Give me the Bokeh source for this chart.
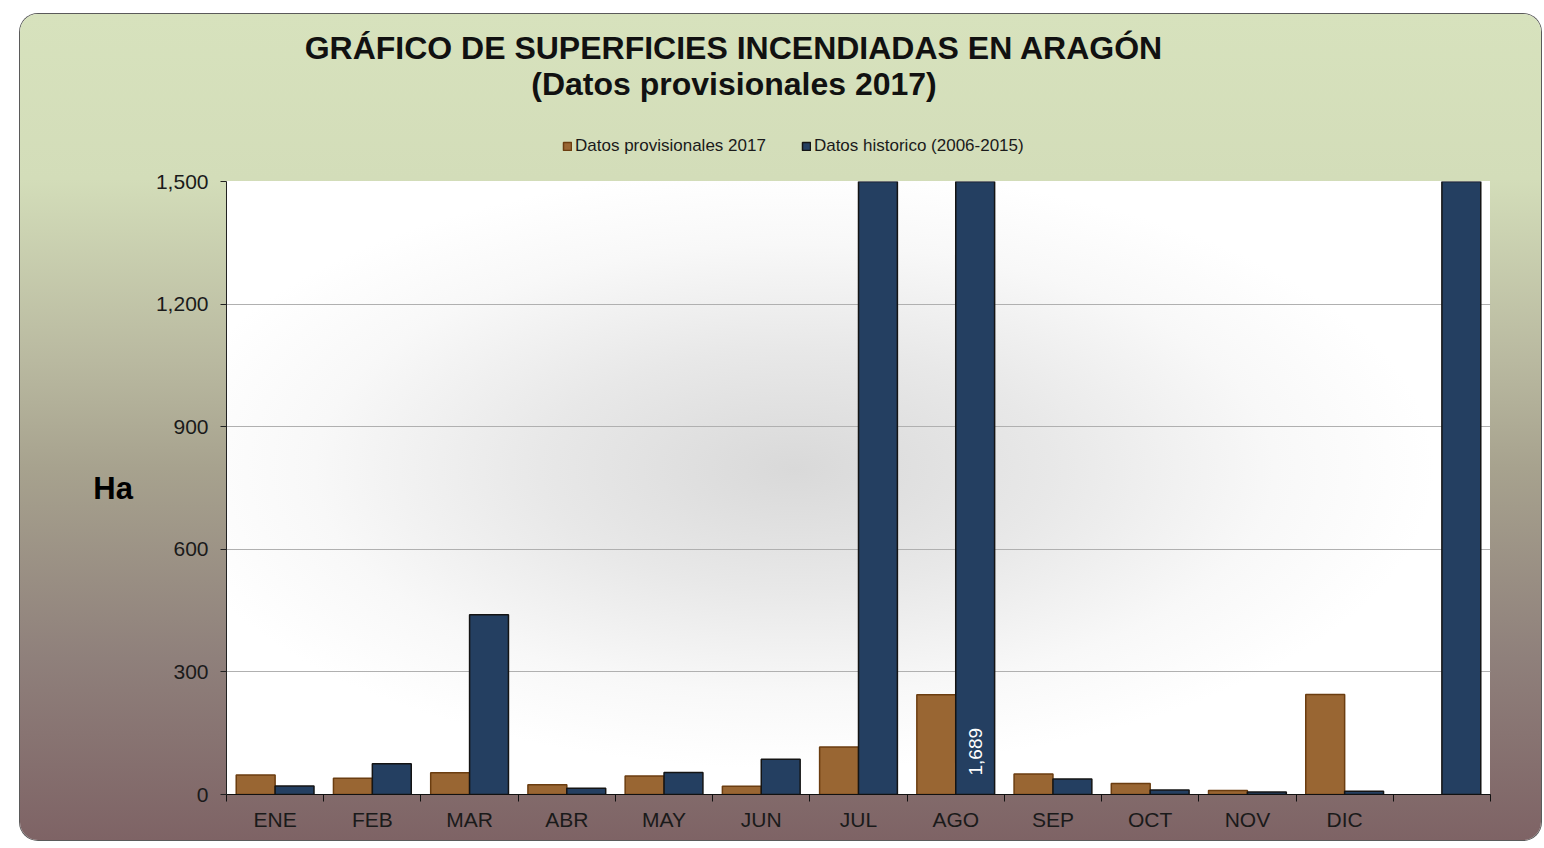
import numpy as np
from bokeh.plotting import figure
from bokeh.layouts import column
from bokeh.models import (ColumnDataSource, Range1d, FixedTicker, NumeralTickFormatter,
                          Label, Legend, LegendItem)
from bokeh.transform import dodge
from bokeh.embed import file_html
from bokeh.resources import INLINE

# ---------------- data ----------------
categories = ["ENE", "FEB", "MAR", "ABR", "MAY", "JUN", "JUL", "AGO",
              "SEP", "OCT", "NOV", "DIC", ""]
provisional_2017 = [48, 40, 53, 24, 45, 20, 116, 244, 50, 27, 10, 245, np.nan]
# JUL and the last (unlabelled) column exceed the 1,500 axis limit and are clipped
historico_2006_2015 = [21, 75, 440, 15, 54, 86, 2300, 1689, 38, 11, 6, 8, 5000]
series_names = ["Datos provisionales 2017", "Datos historico (2006-2015)"]
y_ticks = [0, 300, 600, 900, 1200, 1500]
title_lines = ["GRÁFICO DE SUPERFICIES INCENDIADAS EN ARAGÓN",
               "(Datos provisionales 2017)"]
y_label = "Ha"
labelled_category = "AGO"

FONT = "Liberation Sans"
ORANGE = "#996633"
ORANGE_LINE = "#6b3d10"
BLUE = "#243f61"
BLUE_LINE = "#141414"

W = 1521
TOP_H = 155
n = len(categories)
centers = np.arange(n) + 0.5
source = ColumnDataSource(dict(x=centers,
                               prov=np.array(provisional_2017, dtype=float),
                               hist=np.array(historico_2006_2015, dtype=float)))

bg = ("radial-gradient(ellipse 640px 300px at 45% 47%, #d9d9d9 0%, #e8e8e8 40%, "
      "#f8f8f8 75%, #ffffff 100%) 206px 167px / 1264px 613px no-repeat, "
      "linear-gradient(180deg, #d7e2bd 0%, #d3ddb9 20%, #b9b9a0 42%, #a7a28e 55%, "
      "#8f807b 78%, #7e6365 100%)")

# ---------------- header (titles + legend) ----------------
# its frame is aligned with the chart frame below (x: 0 = chart frame left edge)
head = figure(width=W, height=TOP_H, x_range=Range1d(0, n), y_range=Range1d(0, 1500),
              output_backend="svg", toolbar_location=None,
              x_axis_location=None, y_axis_location=None,
              min_border=0, border_fill_color=None, background_fill_color=None,
              outline_line_color=None)
head.title = None
head.grid.visible = False

head.add_layout(Label(x=507.5, y=122, x_units="screen", y_units="screen",
                      text=title_lines[0], text_align="center", text_baseline="middle",
                      text_font=FONT, text_font_size="32px", text_font_style="bold",
                      text_color="#111111"))
head.add_layout(Label(x=507.5, y=86, x_units="screen", y_units="screen",
                      text=title_lines[1], text_align="center", text_baseline="middle",
                      text_font=FONT, text_font_size="32px", text_font_style="bold",
                      text_color="#111111"))

# legend swatches: same series & styles, renderers hidden (only the legend shows them)
k1 = head.vbar(x=dodge("x", -0.2), top="prov", width=0.4, source=source,
               fill_color=ORANGE, line_color=ORANGE_LINE, line_width=1.5, visible=False)
k2 = head.vbar(x=dodge("x", 0.2), top="hist", width=0.4, source=source,
               fill_color=BLUE, line_color=BLUE_LINE, line_width=1.5, visible=False)
legend = Legend(items=[LegendItem(label=series_names[0], renderers=[k1]),
                       LegendItem(label=series_names[1], renderers=[k2])],
                orientation="horizontal", location=(336, 13),
                margin=0, padding=0, spacing=35,
                glyph_width=10, glyph_height=10, label_standoff=3,
                label_text_font=FONT, label_text_font_size="17px",
                label_text_color="#1a1a1a", click_policy="none",
                inactive_fill_alpha=0,
                background_fill_alpha=0, border_line_color=None)
head.add_layout(legend)

# ---------------- bar chart ----------------
p = figure(width=W, height=826 - TOP_H,
           x_range=Range1d(0, n), y_range=Range1d(0, 1500),
           output_backend="svg", toolbar_location=None,
           min_border_left=206, min_border_right=51,
           min_border_top=12, min_border_bottom=46,
           border_fill_color=None, background_fill_color=None,
           outline_line_color=None)
p.title = None

p.vbar(x=dodge("x", -0.2), top="prov", width=0.4, source=source,
       fill_color=ORANGE, line_color=ORANGE_LINE, line_width=1.5)
p.vbar(x=dodge("x", 0.2), top="hist", width=0.4, source=source,
       fill_color=BLUE, line_color=BLUE_LINE, line_width=1.5)

xa = p.xaxis[0]
xa.ticker = FixedTicker(ticks=list(centers), minor_ticks=list(range(n + 1)))
xa.major_label_overrides = {float(c): lab for c, lab in zip(centers, categories)}
xa.major_tick_out = 0
xa.major_tick_in = 0
xa.major_tick_line_color = None
xa.minor_tick_out = 7
xa.minor_tick_in = 0
xa.minor_tick_line_color = "#111111"
xa.axis_line_color = "#111111"
xa.major_label_text_font = FONT
xa.major_label_text_font_size = "21px"
xa.major_label_text_color = "#1a1a1a"
xa.major_label_standoff = 6

ya = p.yaxis[0]
ya.ticker = FixedTicker(ticks=y_ticks, minor_ticks=[])
ya.formatter = NumeralTickFormatter(format="0,0")
ya.major_tick_out = 6
ya.major_tick_in = 0
ya.major_tick_line_color = "#222222"
ya.minor_tick_line_color = None
ya.axis_line_color = "#222222"
ya.major_label_text_font = FONT
ya.major_label_text_font_size = "21px"
ya.major_label_text_color = "#1a1a1a"
ya.major_label_standoff = 12
ya.axis_label = y_label
ya.axis_label_orientation = "horizontal"
ya.axis_label_standoff = 20
ya.axis_label_text_font = FONT
ya.axis_label_text_font_size = "31px"
ya.axis_label_text_font_style = "bold"
ya.axis_label_text_color = "#000000"

p.xgrid.grid_line_color = None
p.ygrid.ticker = FixedTicker(ticks=y_ticks)
p.ygrid.grid_line_color = "#b0b0b0"
p.ygrid.grid_line_width = 1

k = categories.index(labelled_category)
p.add_layout(Label(x=centers[k] + 0.2, y=0, y_offset=19,
                   text=f"{historico_2006_2015[k]:,}", angle=np.pi / 2,
                   text_align="left", text_baseline="middle",
                   text_font=FONT, text_font_size="19px", text_color="#ffffff"))

layout = column(head, p, spacing=0, margin=(14, 0, 0, 20),
                styles={"background": bg, "border-radius": "18px",
                        "box-shadow": "0 0 0 1px #5a5a5a"})

open("out.html", "w").write(file_html(layout, INLINE))
